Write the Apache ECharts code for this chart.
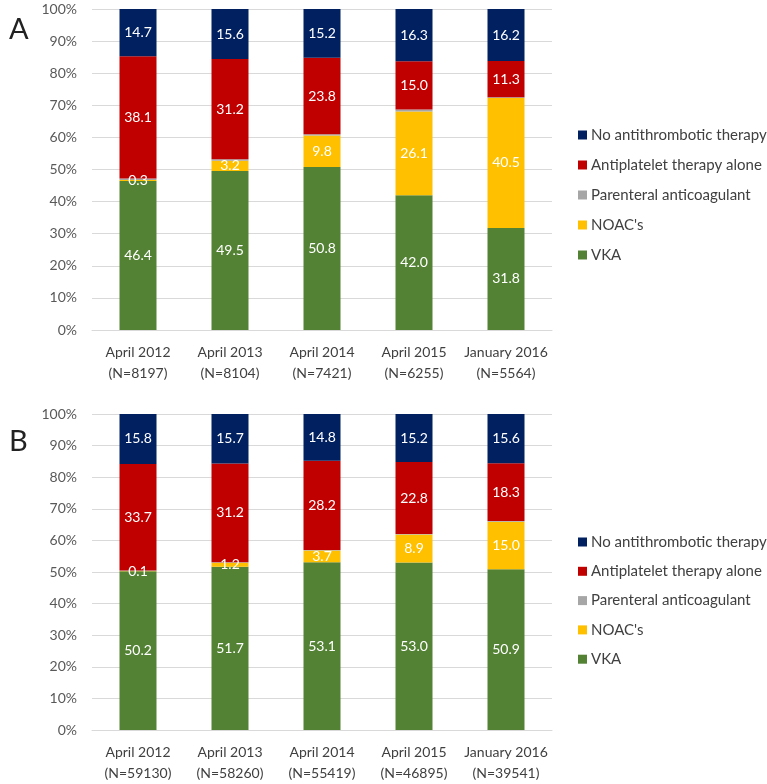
<!DOCTYPE html>
<html>
<head>
<meta charset="utf-8">
<script src="https://cdn.jsdelivr.net/npm/echarts@6/dist/echarts.min.js"></script>
<style>html,body{margin:0;padding:0;background:#fff}#c{width:767px;height:784px}</style>
</head>
<body>
<div id="c"></div>
<script>
const seriesNames = ["VKA", "NOAC's", "Parenteral anticoagulant", "Antiplatelet therapy alone", "No antithrombotic therapy"];
const legendOrder = ["No antithrombotic therapy", "Antiplatelet therapy alone", "Parenteral anticoagulant", "NOAC's", "VKA"];
const colors = ["#548235", "#FFC000", "#A6A6A6", "#C00000", "#002060"];

const categoriesA = ["April 2012\n(N=8197)", "April 2013\n(N=8104)", "April 2014\n(N=7421)", "April 2015\n(N=6255)", "January 2016\n(N=5564)"];
const vkaA = [46.4, 49.5, 50.8, 42.0, 31.8];
const noacA = [0.3, 3.2, 9.8, 26.1, 40.5];
const parenteralA = [0.5, 0.5, 0.4, 0.6, 0.2];
const antiplateletA = [38.1, 31.2, 23.8, 15.0, 11.3];
const noneA = [14.7, 15.6, 15.2, 16.3, 16.2];

const categoriesB = ["April 2012\n(N=59130)", "April 2013\n(N=58260)", "April 2014\n(N=55419)", "April 2015\n(N=46895)", "January 2016\n(N=39541)"];
const vkaB = [50.2, 51.7, 53.1, 53.0, 50.9];
const noacB = [0.1, 1.2, 3.7, 8.9, 15.0];
const parenteralB = [0.2, 0.2, 0.2, 0.1, 0.2];
const antiplateletB = [33.7, 31.2, 28.2, 22.8, 18.3];
const noneB = [15.8, 15.7, 14.8, 15.2, 15.6];

const yTicks = [0, 10, 20, 30, 40, 50, 60, 70, 80, 90, 100];

const FONT = "Lato";
const dataA = [vkaA, noacA, parenteralA, antiplateletA, noneA];
const dataB = [vkaB, noacB, parenteralB, antiplateletB, noneB];

function makeSeries(data, idx, stack) {
  return data.map((arr, i) => ({
    name: seriesNames[i],
    type: 'bar',
    stack: stack,
    xAxisIndex: idx,
    yAxisIndex: idx,
    barWidth: 37,
    data: arr,
    itemStyle: { color: colors[i] },
    label: {
      show: i !== 2,
      position: 'inside',
      color: '#ffffff',
      fontFamily: FONT,
      fontSize: 14,
      formatter: p => Number(p.value).toFixed(1)
    }
  }));
}

function xAxis(idx, cats) {
  return {
    type: 'category', gridIndex: idx, data: cats,
    axisLine: { lineStyle: { color: '#d9d9d9' } },
    axisTick: { show: false },
    axisLabel: { color: '#404040', fontFamily: FONT, fontSize: 14, lineHeight: 21, margin: 12, interval: 0 }
  };
}
function yAxis(idx) {
  return {
    type: 'value', gridIndex: idx, min: yTicks[0], max: yTicks[yTicks.length - 1], interval: 10,
    axisLine: { show: false }, axisTick: { show: false },
    splitLine: { lineStyle: { color: '#d9d9d9' } },
    axisLabel: { color: '#595959', fontFamily: FONT, fontSize: 14, margin: 15, formatter: v => v + '%' }
  };
}
function legend(top, gap) {
  return {
    data: legendOrder, orient: 'vertical', left: 573, top: top,
    itemWidth: 9, itemHeight: 9, itemGap: gap, icon: 'rect',
    selectedMode: false,
    textStyle: { color: '#404040', fontFamily: FONT, fontSize: 15, lineHeight: 16, padding: [0, 0, 0, -1] }
  };
}

const chart = echarts.init(document.getElementById('c'), null, { renderer: 'canvas' });
chart.setOption({
  animation: false,
  backgroundColor: '#ffffff',
  title: [
    { text: 'A', left: 4, top: 10, textStyle: { fontFamily: FONT, fontWeight: 'normal', fontSize: 29, color: '#222' } },
    { text: 'B', left: 4, top: 422, textStyle: { fontFamily: FONT, fontWeight: 'normal', fontSize: 29, color: '#222' } }
  ],
  legend: [legend(122, 14), legend(529, 13.3)],
  grid: [
    { left: 92, width: 460, top: 9, height: 321 },
    { left: 92, width: 460, top: 414, height: 318 }
  ],
  xAxis: [xAxis(0, categoriesA), xAxis(1, categoriesB)],
  yAxis: [yAxis(0), yAxis(1)],
  series: makeSeries(dataA, 0, 'A').concat(makeSeries(dataB, 1, 'B'))
});
</script>
</body>
</html>
